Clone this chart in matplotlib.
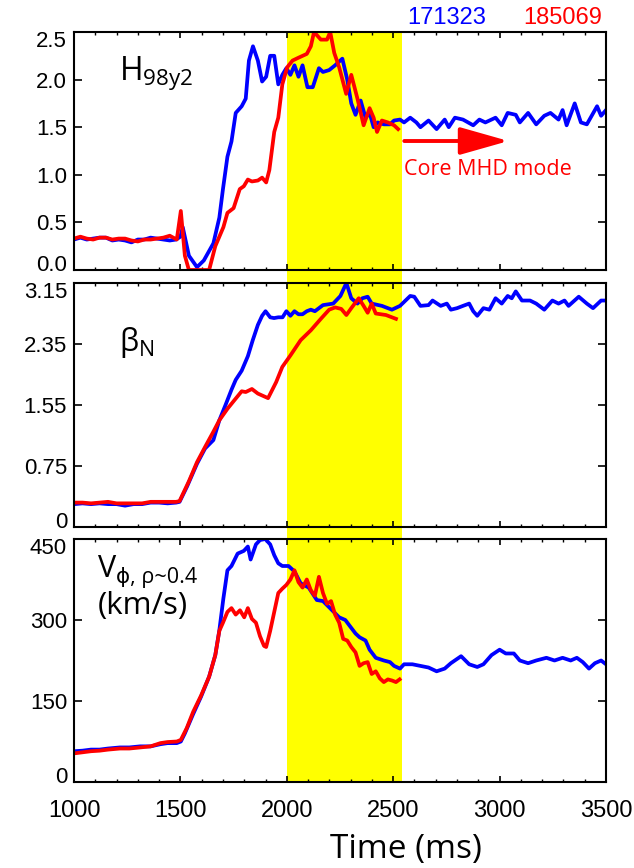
import matplotlib
matplotlib.use("Agg")
import matplotlib.pyplot as plt
from matplotlib.patches import Rectangle, FancyArrowPatch
from matplotlib.transforms import blended_transform_factory, ScaledTranslation

# H98y2 (top panel)
h98_t_171323 = [1000, 1030, 1060, 1090, 1120, 1150, 1180, 1210, 1240, 1270,
                1300, 1330, 1360, 1390, 1420, 1450, 1480, 1500, 1511, 1540,
                1578, 1610, 1655, 1683, 1700, 1721, 1740, 1760, 1788, 1807,
                1822, 1841, 1864, 1884, 1903, 1922, 1941, 1960, 1979, 1998,
                2017, 2036, 2055, 2074, 2097, 2122, 2151, 2170, 2199, 2227,
                2261, 2284, 2303, 2323, 2347, 2370, 2389, 2408, 2427, 2456,
                2485, 2504, 2532, 2551, 2580, 2609, 2628, 2666, 2704, 2742,
                2761, 2790, 2828, 2876, 2905, 2933, 2981, 3010, 3038, 3076,
                3095, 3134, 3172, 3210, 3239, 3277, 3296, 3315, 3353, 3382,
                3410, 3458, 3477, 3500]
h98_171323 = [0.32, 0.34, 0.32, 0.33, 0.34, 0.34, 0.31, 0.32, 0.31, 0.29,
              0.32, 0.32, 0.34, 0.33, 0.32, 0.31, 0.32, 0.35, 0.45, 0.15,
              0.03, 0.10, 0.28, 0.55, 0.85, 1.19, 1.35, 1.65, 1.72, 1.80,
              2.20, 2.35, 2.20, 1.98, 2.03, 2.25, 2.25, 1.95, 2.05, 2.12,
              2.05, 2.15, 2.03, 2.15, 1.92, 1.92, 2.12, 2.08, 2.10, 2.15,
              2.22, 2.00, 1.75, 1.63, 1.78, 1.60, 1.65, 1.50, 1.55, 1.53,
              1.53, 1.57, 1.58, 1.55, 1.60, 1.55, 1.50, 1.57, 1.48, 1.58,
              1.50, 1.60, 1.58, 1.52, 1.58, 1.55, 1.60, 1.52, 1.65, 1.63,
              1.55, 1.65, 1.53, 1.62, 1.65, 1.58, 1.68, 1.52, 1.75, 1.55,
              1.53, 1.72, 1.62, 1.68]
h98_t_185069 = [1000, 1030, 1060, 1090, 1120, 1150, 1180, 1210, 1240, 1270,
                1300, 1330, 1360, 1390, 1420, 1450, 1483, 1502, 1521, 1540,
                1635, 1664, 1702, 1721, 1750, 1779, 1798, 1817, 1836, 1864,
                1884, 1903, 1918, 1941, 1960, 1979, 2002, 2027, 2055, 2094,
                2113, 2128, 2160, 2189, 2204, 2223, 2246, 2279, 2303, 2332,
                2361, 2389, 2408, 2424, 2447, 2475, 2504, 2523]
h98_185069 = [0.33, 0.35, 0.33, 0.32, 0.34, 0.34, 0.32, 0.33, 0.33, 0.31,
              0.30, 0.32, 0.32, 0.33, 0.34, 0.36, 0.32, 0.62, 0.15, 0.00,
              0.00, 0.25, 0.45, 0.60, 0.65, 0.85, 0.88, 0.95, 0.93, 0.94,
              0.97, 0.92, 1.05, 1.45, 1.60, 1.95, 2.13, 2.20, 2.23, 2.27,
              2.35, 2.50, 2.42, 2.42, 2.50, 2.28, 2.13, 1.85, 2.05, 1.80,
              1.52, 1.70, 1.60, 1.45, 1.57, 1.55, 1.52, 1.48]

# beta_N (middle panel)
bn_t_171323 = [1000, 1040, 1080, 1120, 1160, 1200, 1240, 1280, 1320, 1360,
               1400, 1440, 1480, 1496, 1531, 1578, 1616, 1655, 1683, 1712,
               1740, 1760, 1788, 1817, 1840, 1864, 1884, 1900, 1922, 1940,
               1960, 1980, 1998, 2017, 2036, 2055, 2074, 2094, 2113, 2132,
               2170, 2218, 2252, 2280, 2303, 2332, 2355, 2380, 2399, 2447,
               2494, 2532, 2580, 2599, 2628, 2666, 2685, 2723, 2752, 2771,
               2800, 2828, 2857, 2876, 2895, 2924, 2952, 2981, 3010, 3038,
               3057, 3076, 3105, 3143, 3172, 3210, 3248, 3277, 3305, 3324,
               3372, 3410, 3439, 3477, 3500]
bn_171323 = [0.25, 0.26, 0.25, 0.26, 0.25, 0.25, 0.23, 0.25, 0.25, 0.27,
             0.27, 0.26, 0.27, 0.28, 0.48, 0.78, 0.98, 1.09, 1.35, 1.55,
             1.75, 1.88, 2.00, 2.19, 2.40, 2.60, 2.72, 2.78, 2.70, 2.69,
             2.70, 2.70, 2.78, 2.72, 2.78, 2.74, 2.74, 2.78, 2.80, 2.78,
             2.86, 2.88, 2.98, 3.15, 2.95, 2.88, 2.95, 2.97, 2.88, 2.85,
             2.80, 2.85, 2.98, 2.97, 2.85, 2.86, 2.92, 2.85, 2.88, 2.80,
             2.82, 2.85, 2.88, 2.78, 2.72, 2.82, 2.80, 2.95, 2.88, 2.98,
             2.95, 3.04, 2.92, 2.92, 2.88, 2.80, 2.92, 2.88, 2.92, 2.85,
             2.97, 2.88, 2.82, 2.92, 2.92]
bn_t_185069 = [1000, 1040, 1080, 1120, 1160, 1200, 1240, 1280, 1320, 1360,
               1400, 1440, 1480, 1496, 1540, 1578, 1616, 1655, 1683, 1721,
               1750, 1788, 1807, 1836, 1864, 1912, 1950, 1979, 2017, 2065,
               2113, 2160, 2199, 2227, 2256, 2280, 2303, 2338, 2361, 2380,
               2399, 2418, 2466, 2513]
bn_185069 = [0.27, 0.27, 0.26, 0.27, 0.28, 0.26, 0.26, 0.26, 0.26, 0.28,
             0.28, 0.28, 0.28, 0.29, 0.55, 0.80, 1.00, 1.20, 1.35, 1.50,
             1.60, 1.73, 1.72, 1.76, 1.70, 1.64, 1.85, 2.05, 2.20, 2.40,
             2.53, 2.68, 2.80, 2.83, 2.81, 2.73, 2.82, 2.95, 2.85, 2.76,
             2.88, 2.75, 2.73, 2.68]

# V_phi at rho~0.4 (bottom panel), km/s
vt_t_171323 = [1000, 1040, 1080, 1120, 1160, 1216, 1260, 1311, 1360, 1406,
               1440, 1483, 1502, 1521, 1559, 1597, 1635, 1664, 1683, 1702,
               1721, 1740, 1769, 1798, 1817, 1830, 1855, 1874, 1899, 1922,
               1941, 1960, 1979, 2008, 2036, 2065, 2103, 2141, 2170, 2208,
               2246, 2275, 2294, 2323, 2342, 2370, 2389, 2418, 2456, 2485,
               2504, 2532, 2551, 2590, 2628, 2666, 2704, 2742, 2771, 2819,
               2857, 2895, 2924, 2962, 3000, 3029, 3067, 3095, 3134, 3172,
               3220, 3258, 3296, 3334, 3363, 3391, 3420, 3448, 3477, 3500]
vt_171323 = [57, 58, 60, 60, 62, 64, 64, 66, 66, 70,
             72, 72, 75, 90, 125, 158, 195, 235, 281, 340,
             392, 400, 423, 428, 436, 412, 440, 448, 450, 440,
             420, 405, 400, 400, 390, 368, 360, 337, 335, 320,
             305, 300, 290, 275, 268, 262, 245, 230, 225, 222,
             215, 210, 218, 218, 215, 212, 205, 210, 220, 233,
             218, 213, 218, 235, 245, 238, 238, 225, 220, 225,
             230, 225, 230, 225, 230, 222, 210, 220, 225, 218]
vt_t_185069 = [1000, 1040, 1080, 1120, 1160, 1216, 1260, 1311, 1360, 1406,
               1440, 1483, 1502, 1530, 1560, 1597, 1635, 1664, 1683, 1700,
               1721, 1740, 1760, 1780, 1800, 1817, 1836, 1855, 1874, 1893,
               1903, 1922, 1941, 1960, 1979, 1998, 2017, 2036, 2055, 2074,
               2094, 2113, 2132, 2151, 2170, 2189, 2208, 2227, 2246, 2265,
               2284, 2303, 2323, 2342, 2361, 2380, 2399, 2418, 2437, 2456,
               2475, 2494, 2513, 2530]
vt_185069 = [53, 55, 57, 58, 60, 62, 62, 64, 66, 72,
             74, 75, 78, 100, 130, 160, 195, 235, 280, 295,
             315, 322, 310, 318, 305, 322, 302, 295, 270, 252,
             250, 280, 315, 350, 358, 365, 375, 392, 370, 360,
             375, 355, 345, 380, 350, 330, 335, 310, 295, 265,
             262, 250, 240, 215, 220, 222, 200, 205, 192, 185,
             190, 188, 185, 190]

shots = ["171323", "185069"]
window = [2000, 2542]

bn_ticks = [-0.05, 0.75, 1.55, 2.35, 3.15]
bn_ticklabels = ["0", "0.75", "1.55", "2.35", "3.15"]

BLUE = "#0000ff"
RED = "#ff0000"
LBL_FONT = "Open Sans"
NUM_FONT = "Liberation Sans"

plt.rcParams["font.family"] = NUM_FONT
plt.rcParams["mathtext.fontset"] = "custom"
plt.rcParams["mathtext.rm"] = LBL_FONT

fig = plt.figure(figsize=(6.34, 8.68), dpi=100)
left, width = 74 / 634, 532 / 634
ax1 = fig.add_axes([left, 1 - 270 / 868, width, 238 / 868])
ax2 = fig.add_axes([left, 1 - 527 / 868, width, 244 / 868])
ax3 = fig.add_axes([left, 1 - 782 / 868, width, 243 / 868])

for ax in (ax1, ax2, ax3):
    ax.set_facecolor("none")
    ax.set_xlim(1000, 3500)
    ax.set_xticks(range(1000, 3501, 500))
    ax.set_xticks(range(1000, 3501, 100), minor=True)
    ax.tick_params(axis="x", which="major", direction="in", top=True, bottom=True,
                   length=4.5, width=1.2, labelsize=17, pad=13)
    ax.tick_params(axis="x", which="minor", direction="in", top=True, bottom=True,
                   length=2.5, width=1.0)
    ax.tick_params(axis="y", which="major", direction="in", left=True, right=True,
                   length=6, width=1.2, labelsize=16, pad=5)
    for sp in ax.spines.values():
        sp.set_linewidth(1.5)
    if ax is not ax3:
        ax.tick_params(axis="x", labelbottom=False)

lw = 2.7
ax1.plot(h98_t_171323, h98_171323, color=BLUE, lw=lw)
ax1.plot(h98_t_185069, h98_185069, color=RED, lw=lw)
ax1.set_ylim(0, 2.5)
ax1.set_yticks([0, 0.5, 1.0, 1.5, 2.0, 2.5])
ax1.set_yticklabels(["0.0", "0.5", "1.0", "1.5", "2.0", "2.5"])

ax2.plot(bn_t_171323, bn_171323, color=BLUE, lw=lw)
ax2.plot(bn_t_185069, bn_185069, color=RED, lw=lw)
ax2.set_ylim(-0.05, 3.15)
ax2.set_yticks(bn_ticks)
ax2.set_yticklabels(bn_ticklabels)

ax3.plot(vt_t_171323, vt_171323, color=BLUE, lw=lw)
ax3.plot(vt_t_185069, vt_185069, color=RED, lw=lw)
ax3.set_ylim(0, 450)
ax3.set_yticks([0, 150, 300, 450])

# edge y labels sit inside the panel, like the original
for ax in (ax1, ax2, ax3):
    labels = ax.get_yticklabels()
    down = ScaledTranslation(0, -7 / 100, fig.dpi_scale_trans)
    up = ScaledTranslation(0, 7 / 100, fig.dpi_scale_trans)
    labels[-1].set_transform(labels[-1].get_transform() + down)
    labels[0].set_transform(labels[0].get_transform() + up)

# yellow window spanning all three panels
trans = blended_transform_factory(ax3.transData, fig.transFigure)
y0 = 1 - 782 / 868
y1 = 1 - 32 / 868
fig.patches.append(Rectangle((window[0], y0), window[1] - window[0], y1 - y0,
                             transform=trans, facecolor="#ffff00", edgecolor="none",
                             zorder=-1))

# panel labels
ax1.text(0.085, 0.80, r"$\mathregular{H_{98y2}}$", transform=ax1.transAxes,
         fontsize=23, family=LBL_FONT, va="baseline")
ax2.text(0.085, 0.72, r"$\mathregular{β_N}$", transform=ax2.transAxes,
         fontsize=22, family=LBL_FONT, va="baseline")
ax3.text(0.045, 0.845, "V", transform=ax3.transAxes,
         fontsize=22, family=LBL_FONT, va="baseline")
ax3.text(0.079, 0.82, "\u03d5, ρ~0.4", transform=ax3.transAxes,
         fontsize=15.5, family=[LBL_FONT, "DejaVu Sans"], va="baseline")
ax3.text(0.045, 0.69, "(km/s)", transform=ax3.transAxes,
         fontsize=22.5, family=LBL_FONT, va="baseline")

# shot numbers
fig.text(407 / 634, 1 - 24 / 868, shots[0], color=BLUE, fontsize=17, va="baseline")
fig.text(523 / 634, 1 - 24 / 868, shots[1], color=RED, fontsize=17, va="baseline")

# core MHD mode arrow
arrow = FancyArrowPatch((2552, 1.355), (3042, 1.355), arrowstyle="-|>,head_length=3.0,head_width=0.85",
                        mutation_scale=10, color=RED, lw=2.8, shrinkA=0, shrinkB=0)
ax1.add_patch(arrow)
ax1.text(2552, 0.40 * 2.5, "Core MHD mode", color=RED, fontsize=15.5, family=LBL_FONT,
         va="baseline")

fig.text(406 / 634, 1 - 858 / 868, "Time (ms)", fontsize=24, family=LBL_FONT,
         ha="center", va="baseline")

fig.savefig("out.png", dpi=100)
